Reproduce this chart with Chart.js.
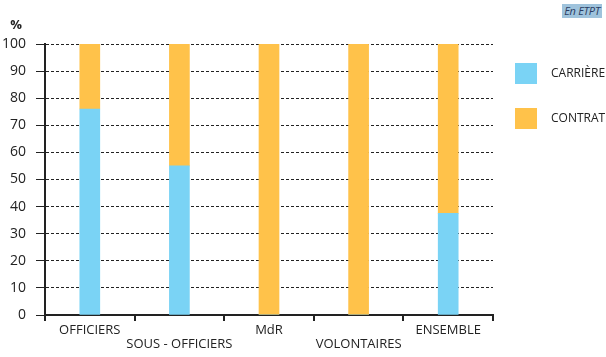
<!DOCTYPE html>
<html><head><meta charset="utf-8">
<script src="https://cdn.jsdelivr.net/npm/chart.js@4.4.1/dist/chart.umd.min.js"></script>
<style>
html,body{margin:0;padding:0;background:#fff;}
#wrap{position:relative;width:606px;height:357px;}
#badge{position:absolute;left:562px;top:4px;width:40px;height:14px;background:#9fc3dc;color:#2b3d63;font:italic 11px "Open Sans",sans-serif;line-height:14px;text-align:center;white-space:nowrap;letter-spacing:-0.3px;overflow:hidden;}
</style></head>
<body><div id="wrap"><canvas id="c" width="606" height="357"></canvas><div id="badge">En ETPT</div></div>
<script>
const categories = [["OFFICIERS",""],["","SOUS - OFFICIERS"],["MdR",""],["","VOLONTAIRES"],["ENSEMBLE",""]];
const carriere = [76, 55, 0, 0, 37.5];
const contrat = [24, 45, 100, 100, 62.5];
const seriesNames = ["CARRIÈRE","CONTRAT"];
const seriesColors = ["#7ad3f5","#ffc24a"];
const yTicks = [0,10,20,30,40,50,60,70,80,90,100];

const extras = {
  id:'extras',
  afterDraw(chart){
    const ctx = chart.ctx;
    ctx.save();
    ctx.fillStyle = '#222';
    ctx.font = 'bold 13px "Open Sans", sans-serif';
    ctx.textAlign = 'center'; ctx.textBaseline = 'middle';
    ctx.fillText('%', 16, 25);
    ctx.font = '12px "Open Sans", sans-serif';
    ctx.textAlign = 'left';
    chart.data.datasets.forEach((ds, i) => {
      const y = 63 + i*45;
      ctx.fillStyle = ds.backgroundColor;
      ctx.fillRect(515, y, 22, 21);
      ctx.fillStyle = '#222';
      ctx.fillText(ds.label, 551, y + 11);
    });
    ctx.restore();
  }
};

new Chart(document.getElementById('c'), {
  type: 'bar',
  data: {
    labels: categories,
    datasets: [
      {label: seriesNames[0], data: carriere, backgroundColor: seriesColors[0], barThickness: 20},
      {label: seriesNames[1], data: contrat, backgroundColor: seriesColors[1], barThickness: 20}
    ]
  },
  options: {
    responsive: false,
    animation: false,
    layout: {padding: {top: 44, right: 113, left: 0, bottom: 0}},
    plugins: {legend: {display: false}, tooltip: {enabled: false}},
    scales: {
      x: {
        stacked: true,
        offset: true,
        grid: {offset: true, drawOnChartArea: false, drawTicks: true, tickLength: 6, color: '#222', lineWidth: 2},
        border: {display: true, color: '#222', width: 2},
        ticks: {autoSkip: false, maxRotation: 0, color: '#222', padding: 2, font: {family: '"Open Sans", sans-serif', size: 13, lineHeight: '14px'}},
        afterFit(s){ s.height = 42; }
      },
      y: {
        stacked: true,
        min: 0, max: 100,
        afterBuildTicks(s){ s.ticks = yTicks.map(v => ({value: v})); },
        grid: {color: '#222', lineWidth: 1, tickLength: 9, drawTicks: true},
        border: {display: true, color: '#222', width: 2, dash: [3,2]},
        ticks: {color: '#222', padding: 10, font: {family: '"Open Sans", sans-serif', size: 14}},
        afterFit(s){ s.width = 45; }
      }
    }
  },
  plugins: [extras]
});
</script></body></html>
